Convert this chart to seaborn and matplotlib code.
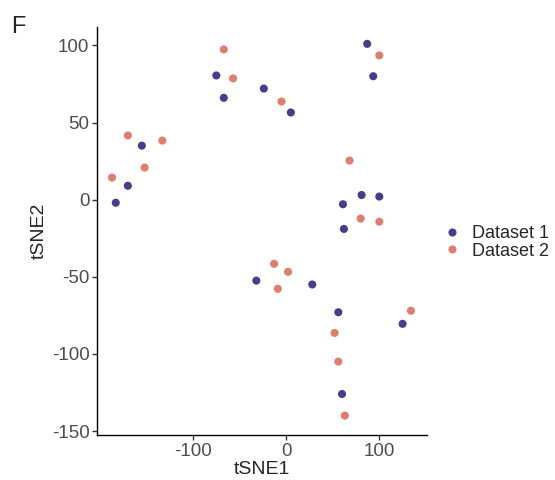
import pandas as pd
import numpy as np
import matplotlib
matplotlib.use('Agg')
import matplotlib.pyplot as plt
import seaborn as sns

# tSNE coordinates
d1_x = [87, 93.5, -75, -67, -24, 5, -155, -170, -183, 61, 81, 100, 62, -32, 28, 56, 125, 60]
d1_y = [101, 80, 80.5, 66, 72, 56.5, 35, 9, -2, -3, 3, 2, -19, -52.5, -55, -73, -80.5, -126]
d2_x = [-67, 100, -57, -5, -170, -133, -152, -187, 68, 80, 100, -13, 2, -9, 134, 52, 56, 63]
d2_y = [97.4, 93.5, 78.6, 63.6, 41.6, 38.3, 20.8, 14.3, 25.3, -12.3, -14.3, -41.6, -46.8, -57.8, -72, -86.4, -105, -140]

df = pd.DataFrame({
    'tSNE1': d1_x + d2_x,
    'tSNE2': d1_y + d2_y,
    'dataset': ['Dataset 1'] * len(d1_x) + ['Dataset 2'] * len(d2_x),
})

sns.set_theme(style='ticks')
plt.rcParams['font.family'] = ['Liberation Sans', 'DejaVu Sans']
plt.rcParams['axes.unicode_minus'] = False

fig = plt.figure(figsize=(5.55, 4.8), dpi=100)
ax = fig.add_axes([0.175, 0.094, 0.594, 0.85])

palette = {'Dataset 1': '#483D8B', 'Dataset 2': '#DE7E6E'}
sns.scatterplot(data=df, x='tSNE1', y='tSNE2', hue='dataset', palette=palette,
                s=34, linewidth=0, ax=ax)

ax.set_xlim(-203, 151)
ax.set_ylim(-152.5, 112)
ax.set_xticks([-100, 0, 100])
ax.set_yticks([-150, -100, -50, 0, 50, 100])
ax.tick_params(axis='both', labelsize=13.5, colors='#333333', labelcolor='#4D4D4D',
               length=3.5, width=1, pad=2)
ax.set_xlabel('tSNE1', fontsize=14, labelpad=1)
ax.set_ylabel('tSNE2', fontsize=14, labelpad=3)
for side in ['left', 'bottom']:
    ax.spines[side].set_color('black')
    ax.spines[side].set_linewidth(1)
sns.despine(ax=ax)

leg = ax.legend(loc='center left', bbox_to_anchor=(1.0, 0.472), frameon=False,
                fontsize=13, handletextpad=0.1, labelspacing=0.05, markerscale=1.0,
                borderaxespad=0.0)

fig.text(0.02, 0.943, 'F', fontsize=17, va='center', ha='left')

fig.savefig('out.png', dpi=100)
